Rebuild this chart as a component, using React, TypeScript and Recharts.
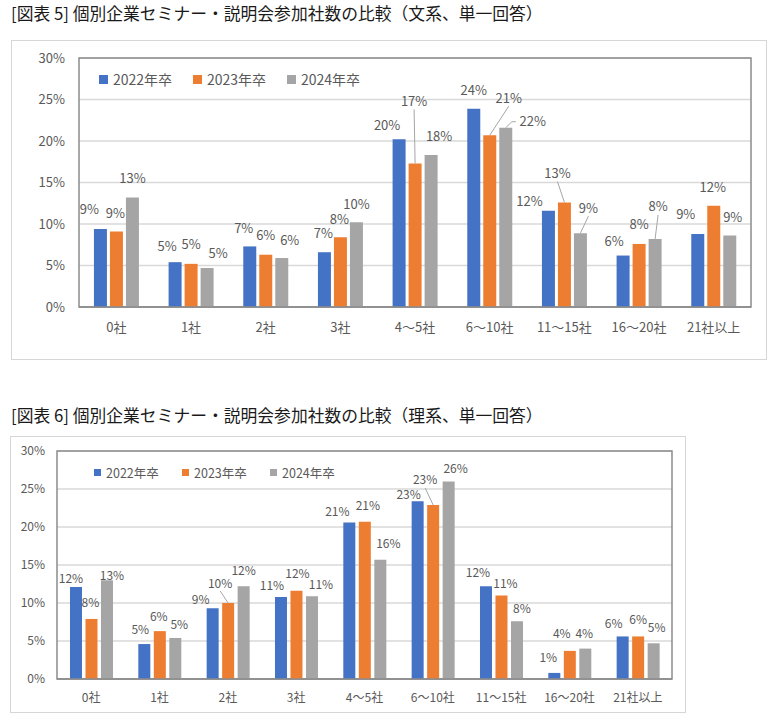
import React from 'react';
import {
  BarChart,
  Bar,
  XAxis,
  YAxis,
  CartesianGrid,
  Legend,
  LabelList,
  ReferenceArea,
} from 'recharts';

// ---------- data ----------
const categories = ['0社', '1社', '2社', '3社', '4～5社', '6～10社', '11～15社', '16～20社', '21社以上'];
const seriesNames = ['2022年卒', '2023年卒', '2024年卒'];
const yTicks = [0, 5, 10, 15, 20, 25, 30];

// 文系 (chart 5)
const bun2022 = [9.4, 5.4, 7.3, 6.6, 20.2, 23.9, 11.6, 6.2, 8.8];
const bun2023 = [9.1, 5.2, 6.3, 8.4, 17.3, 20.7, 12.6, 7.6, 12.2];
const bun2024 = [13.2, 4.7, 5.9, 10.2, 18.3, 21.6, 8.9, 8.2, 8.6];

// 理系 (chart 6)
const ri2022 = [12.1, 4.6, 9.3, 10.8, 20.6, 23.4, 12.2, 0.8, 5.6];
const ri2023 = [7.9, 6.3, 10.0, 11.6, 20.7, 22.9, 11.0, 3.7, 5.6];
const ri2024 = [13.0, 5.4, 12.2, 10.9, 15.7, 26.0, 7.6, 4.0, 4.7];

// ---------- style ----------
const COLORS = ['#4472C4', '#ED7D31', '#A5A5A5'];
const FONT = '"Noto Sans CJK JP", "Noto Sans", sans-serif';
const TEXT = '#595959';

// label placement (dx, dy relative to bar top-centre, leader mode)
type Off = [number, number, string?];
const bunOffsets: Off[][] = [
  [[-11, -20], [-8, -17], [-6, -19], [-1, -20], [-12, -15], [0, -19], [-19, -10], [-9, -15], [-12, -20]],
  [[-1, -19], [0, -20], [0, -20], [-1, -19], [-1, -63, 'b'], [19, -38, 'b'], [-7, -30, 'b'], [0, -20], [-1, -19]],
  [[0, -20], [11, -15], [8, -19], [0, -19], [8, -20], [27, -7, 'l'], [8, -26, 'b'], [3, -33, 'b'], [3, -19]],
];
const riOffsets: Off[][] = [
  [[-5, -10], [-4, -16], [-12, -10], [-9, -12], [-12, -12], [-9, -8], [-8, -15], [-6, -16], [-9, -14]],
  [[-1, -17], [-1, -16], [-8, -21, 'b'], [1, -18], [3, -17], [-8, -26, 'b'], [4, -13], [-8, -18], [0, -18]],
  [[5, -6], [4, -14], [0, -17], [9, -13], [8, -17], [7, -14], [5, -14], [-1, -16], [3, -17]],
];

const buildData = (a: number[], b: number[], c: number[]) =>
  categories.map((cat, i) => ({ cat, s0: a[i], s1: b[i], s2: c[i] }));

const bunData = buildData(bun2022, bun2023, bun2024);
const riData = buildData(ri2022, ri2023, ri2024);

const makeLabel = (offsets: Off[], fontSize: number) => (props: any) => {
  const vb = props.viewBox || {};
  const x = Number(props.x ?? vb.x);
  const y = Number(props.y ?? vb.y);
  const w = Number(props.width ?? vb.width);
  const idx = props.index as number;
  const value = Number(props.value);
  const off = offsets[idx] || [0, -18];
  const cx = x + w / 2;
  const lx = cx + off[0];
  const ly = y + off[1];
  const txt = `${Math.round(value)}%`;
  let line = null;
  if (off[2] === 'b') {
    line = <line x1={lx} y1={ly + 9} x2={cx} y2={y} stroke="#A6A6A6" strokeWidth={1} />;
  } else if (off[2] === 'l') {
    const sx = lx - fontSize * 1.3;
    line = (
      <polyline
        points={`${sx},${ly + 1} ${sx - 4},${ly + 1} ${cx},${y}`}
        fill="none"
        stroke="#A6A6A6"
        strokeWidth={1}
      />
    );
  }
  return (
    <g>
      {line}
      <text
        x={lx}
        y={ly}
        textAnchor="middle"
        dominantBaseline="central"
        fontSize={fontSize}
        fill={TEXT}
        fontFamily={FONT}
      >
        {txt}
      </text>
    </g>
  );
};

const makeLegend = (sq: number, fontSize: number, stride: number, gap: number) => (props: any) => {
  const payload = props.payload || [];
  return (
    <div style={{ display: 'flex', alignItems: 'center', fontFamily: FONT }}>
      {payload.map((p: any, i: number) => (
        <div key={i} style={{ display: 'flex', alignItems: 'center', width: stride }}>
          <span style={{ display: 'inline-block', width: sq, height: sq, background: p.color, marginRight: gap }} />
          <span style={{ fontSize, color: TEXT, whiteSpace: 'nowrap' }}>{p.value}</span>
        </div>
      ))}
    </div>
  );
};

type ChartProps = {
  data: any[];
  offsets: Off[][];
  width: number;
  height: number;
  margin: { top: number; right: number; bottom: number; left: number };
  axisFont: number;
  labelFont: number;
  yTickMargin: number;
  xTickMargin: number;
  legendPos: { top: number; left: number };
  legend: (p: any) => React.ReactNode;
  barGap: number;
  catGap: string;
  gridWidth: number;
};

const Chart = (c: ChartProps) => (
  <BarChart
    width={c.width}
    height={c.height}
    data={c.data}
    margin={{ top: c.margin.top, right: c.margin.right, bottom: 0, left: 0 }}
    barGap={c.barGap}
    barCategoryGap={c.catGap}
  >
    <CartesianGrid vertical={false} stroke="#D9D9D9" strokeWidth={c.gridWidth} />
    <XAxis
      dataKey="cat"
      interval={0}
      tickLine={false}
      tickSize={0}
      tickMargin={c.xTickMargin}
      height={c.margin.bottom}
      axisLine={{ stroke: '#8C8C8C', strokeWidth: 1.5 }}
      tick={{ fontSize: c.axisFont, fill: TEXT, fontFamily: FONT }}
    />
    <YAxis
      domain={[0, 30]}
      ticks={yTicks}
      interval={0}
      width={c.margin.left}
      tickLine={false}
      tickSize={0}
      tickMargin={c.yTickMargin}
      axisLine={false}
      tickFormatter={(v: number) => `${v}%`}
      tick={{ fontSize: c.axisFont, fill: TEXT, fontFamily: FONT }}
    />
    <ReferenceArea y1={0} y2={30} fill="none" stroke="#8C8C8C" strokeWidth={1.5} ifOverflow="visible" />
    <Legend
      verticalAlign="middle"
      align="center"
      layout="horizontal"
      content={c.legend as any}
      wrapperStyle={{ top: c.legendPos.top, left: c.legendPos.left, width: 'auto', height: 'auto', bottom: 'auto' }}
    />
    {['s0', 's1', 's2'].map((k, i) => (
      <Bar key={k} dataKey={k} name={seriesNames[i]} fill={COLORS[i]} isAnimationActive={false}>
        <LabelList dataKey={k} content={makeLabel(c.offsets[i], c.labelFont) as any} />
      </Bar>
    ))}
  </BarChart>
);

const titleStyle: React.CSSProperties = {
  position: 'absolute',
  left: 11,
  fontFamily: FONT,
  fontSize: 16.8,
  color: '#1a1a1a',
  whiteSpace: 'nowrap',
  lineHeight: '20px',
};

const boxStyle: React.CSSProperties = {
  position: 'absolute',
  border: '1px solid #D6D6D6',
  background: '#fff',
};

export default function App() {
  return (
    <div style={{ position: 'absolute', left: 0, top: 0, width: 778, height: 722, background: '#fff', overflow: 'hidden' }}>
      <div style={{ ...titleStyle, top: 3 }}>[図表 5] 個別企業セミナー・説明会参加社数の比較（文系、単一回答）</div>
      <div style={{ ...boxStyle, left: 11, top: 40, width: 754, height: 318 }}>
        <Chart
          data={bunData}
          offsets={bunOffsets}
          width={754}
          height={318}
          margin={{ top: 17, right: 15, bottom: 52, left: 67 }}
          axisFont={13}
          labelFont={13}
          yTickMargin={14}
          xTickMargin={16}
          legendPos={{ top: 28, left: 87 }}
          legend={makeLegend(9, 14, 94, 5)}
          barGap={3}
          catGap="20%"
          gridWidth={1.5}
        />
      </div>
      <div style={{ ...titleStyle, top: 405 }}>[図表 6] 個別企業セミナー・説明会参加社数の比較（理系、単一回答）</div>
      <div style={{ ...boxStyle, left: 10, top: 436, width: 674, height: 275 }}>
        <Chart
          data={riData}
          offsets={riOffsets}
          width={674}
          height={275}
          margin={{ top: 14, right: 13, bottom: 33, left: 46 }}
          axisFont={12}
          labelFont={12}
          yTickMargin={12}
          xTickMargin={14}
          legendPos={{ top: 26, left: 83 }}
          legend={makeLegend(7, 12.5, 88, 5)}
          barGap={3.5}
          catGap="19%"
          gridWidth={1.3}
        />
      </div>
    </div>
  );
}
